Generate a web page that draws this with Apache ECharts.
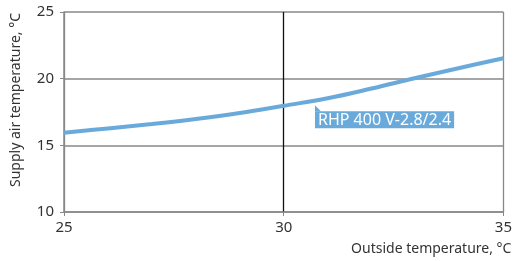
<!DOCTYPE html>
<html>
<head>
<meta charset="utf-8">
<script src="https://cdn.jsdelivr.net/npm/echarts@6/dist/echarts.min.js"></script>
<style>
  html, body { margin: 0; padding: 0; background: #fff; }
  #chart { width: 515px; height: 261px; }
</style>
</head>
<body>
<div id="chart"></div>
<script>
// outside temperature (x) vs supply air temperature (y)
const outsideTemp = [25, 26, 27, 28, 29, 30, 31, 32, 33, 34, 35];
const supplyTemp = [15.95, 16.27, 16.6, 16.98, 17.43, 17.97, 18.53, 19.26, 20.05, 20.8, 21.53];
const seriesName = 'RHP 400 V-2.8/2.4';
const labelPoint = [30.7, 18.3];

const blue = '#6aaadb';
const font = 'Noto Sans';

const chart = echarts.init(document.getElementById('chart'));

chart.setOption({
  animation: false,
  grid: { left: 64, right: 9, top: 12, bottom: 49 },
  xAxis: {
    type: 'value',
    min: 25, max: 35, interval: 5,
    name: 'Outside temperature, °C',
    nameLocation: 'end',
    nameGap: 8,
    nameTextStyle: { fontFamily: font, fontSize: 14, color: '#333', align: 'right', verticalAlign: 'top', padding: [30, 0, 0, 0] },
    axisLine: { lineStyle: { color: '#888', width: 1.5 } },
    axisTick: { show: true, length: 4, lineStyle: { color: '#888' } },
    axisLabel: { fontFamily: font, fontSize: 15, color: '#333', margin: 8 },
    splitLine: { show: true, lineStyle: { color: ['#888', '#111', '#888'], width: 1.3 } }
  },
  yAxis: {
    type: 'value',
    min: 10, max: 25, interval: 5,
    name: 'Supply air temperature, °C',
    nameLocation: 'middle',
    nameGap: 41,
    nameTextStyle: { fontFamily: font, fontSize: 14, color: '#333', padding: [0, 0, 0, 24] },
    axisLine: { show: true, lineStyle: { color: '#888', width: 1.5 } },
    axisTick: { show: true, length: 4, lineStyle: { color: '#888' } },
    axisLabel: { fontFamily: font, fontSize: 15, color: '#333', margin: 10 },
    splitLine: { show: true, lineStyle: { color: '#888', width: 1.5 } }
  },
  series: [{
    name: seriesName,
    type: 'line',
    data: outsideTemp.map((x, i) => [x, supplyTemp[i]]),
    smooth: 0.4,
    showSymbol: false,
    lineStyle: { color: blue, width: 4 },
    markPoint: {
      symbol: 'path://M0,0 L0,6 L6,6 Z',
      symbolSize: [6, 6],
      symbolOffset: [3.5, 7],
      itemStyle: { color: blue },
      label: {
        show: true,
        formatter: seriesName,
        position: [0, 6],
        align: 'left',
        verticalAlign: 'top',
        fontFamily: font,
        fontSize: 16,
        color: '#fff',
        backgroundColor: blue,
        padding: [1, 3, 0, 3]
      },
      data: [{ coord: labelPoint }]
    }
  }]
});
</script>
</body>
</html>
